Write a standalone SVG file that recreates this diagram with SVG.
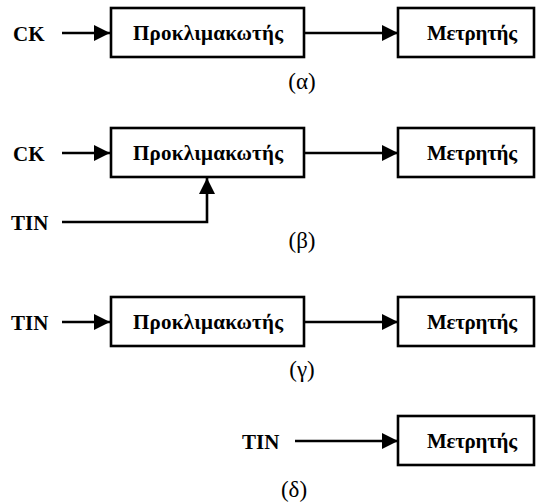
<svg xmlns="http://www.w3.org/2000/svg" width="536" height="503" viewBox="0 0 536 503">
  <style>
    .box { fill: #fff; stroke: #000; stroke-width: 2.6; }
    .wire { fill: none; stroke: #000; stroke-width: 2.6; }
    .lbl { font-family: "Liberation Serif", "DejaVu Serif", serif; font-weight: bold; font-size: 21px; fill: #000; }
    .cap { font-family: "Liberation Serif", "DejaVu Serif", serif; font-size: 23px; fill: #000; text-anchor: middle; }
    .mid { text-anchor: middle; }
  </style>
  <defs>
    <marker id="arrow" markerUnits="userSpaceOnUse" markerWidth="17" markerHeight="16" refX="16" refY="8" orient="auto">
      <path d="M0,0 L16,8 L0,16 Z" fill="#000"/>
    </marker>
  </defs>

  <rect width="536" height="503" fill="#fff"/>

  <!-- connectors -->
  <g id="connectors">
    <!-- (a) -->
    <line class="wire" x1="62" y1="33" x2="110" y2="33" marker-end="url(#arrow)"/>
    <line class="wire" x1="304" y1="33" x2="398" y2="33" marker-end="url(#arrow)"/>
    <!-- (b) -->
    <line class="wire" x1="62" y1="153" x2="110" y2="153" marker-end="url(#arrow)"/>
    <line class="wire" x1="304" y1="153" x2="398" y2="153" marker-end="url(#arrow)"/>
    <polyline class="wire" points="62,222 207,222 207,178" marker-end="url(#arrow)"/>
    <!-- (c) -->
    <line class="wire" x1="62" y1="322" x2="110" y2="322" marker-end="url(#arrow)"/>
    <line class="wire" x1="304" y1="322" x2="398" y2="322" marker-end="url(#arrow)"/>
    <!-- (d) -->
    <line class="wire" x1="295" y1="441" x2="398" y2="441" marker-end="url(#arrow)"/>
  </g>

  <!-- (a) -->
  <g id="a-ck"><text class="lbl" x="13" y="41">CK</text></g>
  <g id="a-prescaler">
    <rect class="box" x="111" y="8" width="193" height="49"/>
    <text class="lbl mid" x="208" y="40" textLength="150">Προκλιμακωτής</text>
  </g>
  <g id="a-counter">
    <rect class="box" x="398" y="8" width="136" height="49"/>
    <text class="lbl mid" x="472" y="40" textLength="90">Μετρητής</text>
  </g>
  <text class="cap" x="302" y="89">(α)</text>

  <!-- (b) -->
  <g id="b-ck"><text class="lbl" x="13" y="161">CK</text></g>
  <g id="b-tin"><text class="lbl" x="11" y="230">TIN</text></g>
  <g id="b-prescaler">
    <rect class="box" x="111" y="128" width="193" height="49"/>
    <text class="lbl mid" x="208" y="160" textLength="150">Προκλιμακωτής</text>
  </g>
  <g id="b-counter">
    <rect class="box" x="398" y="128" width="136" height="49"/>
    <text class="lbl mid" x="472" y="160" textLength="90">Μετρητής</text>
  </g>
  <text class="cap" x="302" y="248">(β)</text>

  <!-- (c) -->
  <g id="c-tin"><text class="lbl" x="11" y="330">TIN</text></g>
  <g id="c-prescaler">
    <rect class="box" x="111" y="297" width="193" height="49"/>
    <text class="lbl mid" x="208" y="329" textLength="150">Προκλιμακωτής</text>
  </g>
  <g id="c-counter">
    <rect class="box" x="398" y="297" width="136" height="49"/>
    <text class="lbl mid" x="472" y="329" textLength="90">Μετρητής</text>
  </g>
  <text class="cap" x="302" y="377">(γ)</text>

  <!-- (d) -->
  <g id="d-tin"><text class="lbl" x="242" y="449">TIN</text></g>
  <g id="d-counter">
    <rect class="box" x="398" y="416" width="136" height="49"/>
    <text class="lbl mid" x="472" y="448" textLength="90">Μετρητής</text>
  </g>
  <text class="cap" x="294" y="497">(δ)</text>
</svg>
